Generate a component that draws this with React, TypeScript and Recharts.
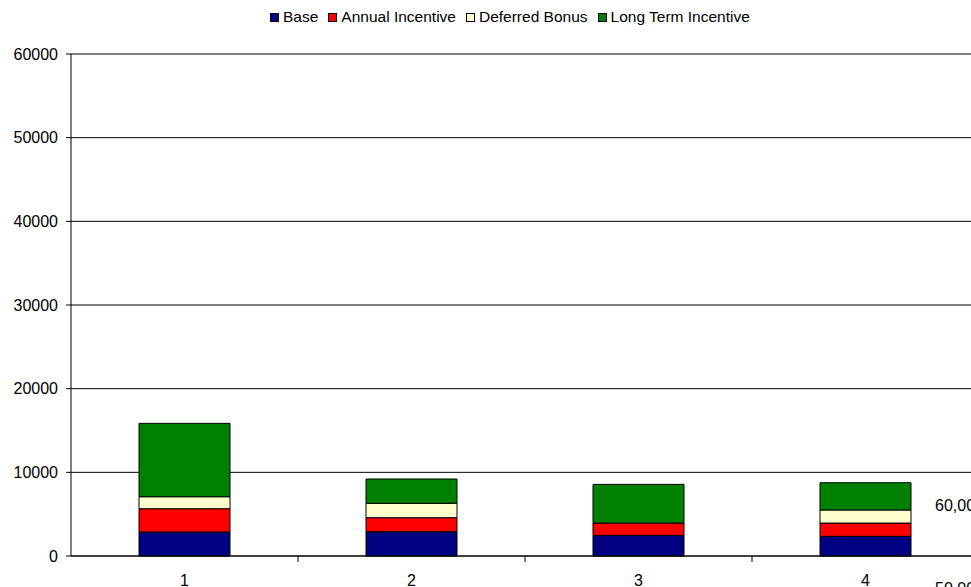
import React from 'react';
import { BarChart, Bar, XAxis, YAxis, CartesianGrid, Legend, ReferenceLine } from 'recharts';

const categories = ['1', '2', '3', '4'];
const baseValues = [2870, 2900, 2470, 2350];
const annualIncentive = [2780, 1680, 1470, 1590];
const deferredBonus = [1435, 1720, 0, 1560];
const longTermIncentive = [8770, 2900, 4620, 3260];
const yTicks = [0, 10000, 20000, 30000, 40000, 50000, 60000];
const sideLabels = ['60,000', '50,000'];

const series = [
  { key: 'base', name: 'Base', color: '#000080' },
  { key: 'annual', name: 'Annual Incentive', color: '#FF0000' },
  { key: 'deferred', name: 'Deferred Bonus', color: '#FFFFCC' },
  { key: 'lti', name: 'Long Term Incentive', color: '#008000' },
];

const data = categories.map((c, i) => ({
  name: c,
  base: baseValues[i],
  annual: annualIncentive[i],
  deferred: deferredBonus[i],
  lti: longTermIncentive[i],
}));

const font = '"Liberation Sans", Arial, sans-serif';

const LegendContent = () => (
  <div style={{ display: 'flex', alignItems: 'center', fontFamily: font, fontSize: 15.5, color: '#000', whiteSpace: 'nowrap' }}>
    {series.map((s) => (
      <div key={s.key} style={{ display: 'flex', alignItems: 'center', marginRight: 10 }}>
        <span style={{ display: 'inline-block', width: 7, height: 7, background: s.color, border: '1px solid #000', marginRight: 4 }} />
        <span>{s.name}</span>
      </div>
    ))}
  </div>
);

const CategoryTick = (props: any) => {
  const { x, y, payload, index, width } = props;
  const half = payload && payload.offset > 0 ? payload.offset : (width || 908) / categories.length / 2;
  const bx = x + half;
  return (
    <g>
      <text x={x} y={y + 30} textAnchor="middle" fill="#000" fontSize={16} fontFamily={font}>
        {payload.value}
      </text>
      {index < categories.length - 1 && (
        <line x1={bx} y1={y} x2={bx} y2={y + 6} stroke="#000" strokeWidth={1} />
      )}
    </g>
  );
};

export default function App() {
  return (
    <div style={{ position: 'absolute', left: 0, top: 0, width: 971, height: 587, overflow: 'hidden', background: '#fff' }}>
      <BarChart
        width={985}
        height={587}
        data={data}
        margin={{ top: 54, right: 6, bottom: 0, left: 0 }}
      >
        <CartesianGrid vertical={false} stroke="#000" strokeWidth={1} />
        <XAxis
          dataKey="name"
          type="category"
          interval={0}
          tickLine={false}
          tickSize={0}
          tickMargin={0}
          axisLine={{ stroke: '#000' }}
          tick={<CategoryTick />}
          height={31}
        />
        <YAxis
          domain={[0, 60000]}
          ticks={yTicks}
          interval={0}
          width={71}
          tickSize={5}
          tickMargin={8}
          axisLine={{ stroke: '#000' }}
          tickLine={{ stroke: '#000' }}
          tick={{ fill: '#000', fontSize: 16, fontFamily: font }}
        />
        <ReferenceLine y={60000} stroke="#808080" strokeWidth={1} />
        <Legend
          verticalAlign="middle"
          layout="horizontal"
          content={<LegendContent />}
          wrapperStyle={{ position: 'absolute', top: 8, left: 270, width: 'auto' }}
        />
        {series.map((s) => (
          <Bar
            key={s.key}
            dataKey={s.key}
            name={s.name}
            stackId="a"
            fill={s.color}
            stroke="#000"
            strokeWidth={1}
            barSize={91}
            isAnimationActive={false}
          />
        ))}
      </BarChart>
      {sideLabels.map((t, i) => (
        <div
          key={t}
          style={{ position: 'absolute', left: 935, top: 497 + i * 83, fontFamily: font, fontSize: 16, color: '#000', whiteSpace: 'nowrap' }}
        >
          {t}
        </div>
      ))}
    </div>
  );
}
